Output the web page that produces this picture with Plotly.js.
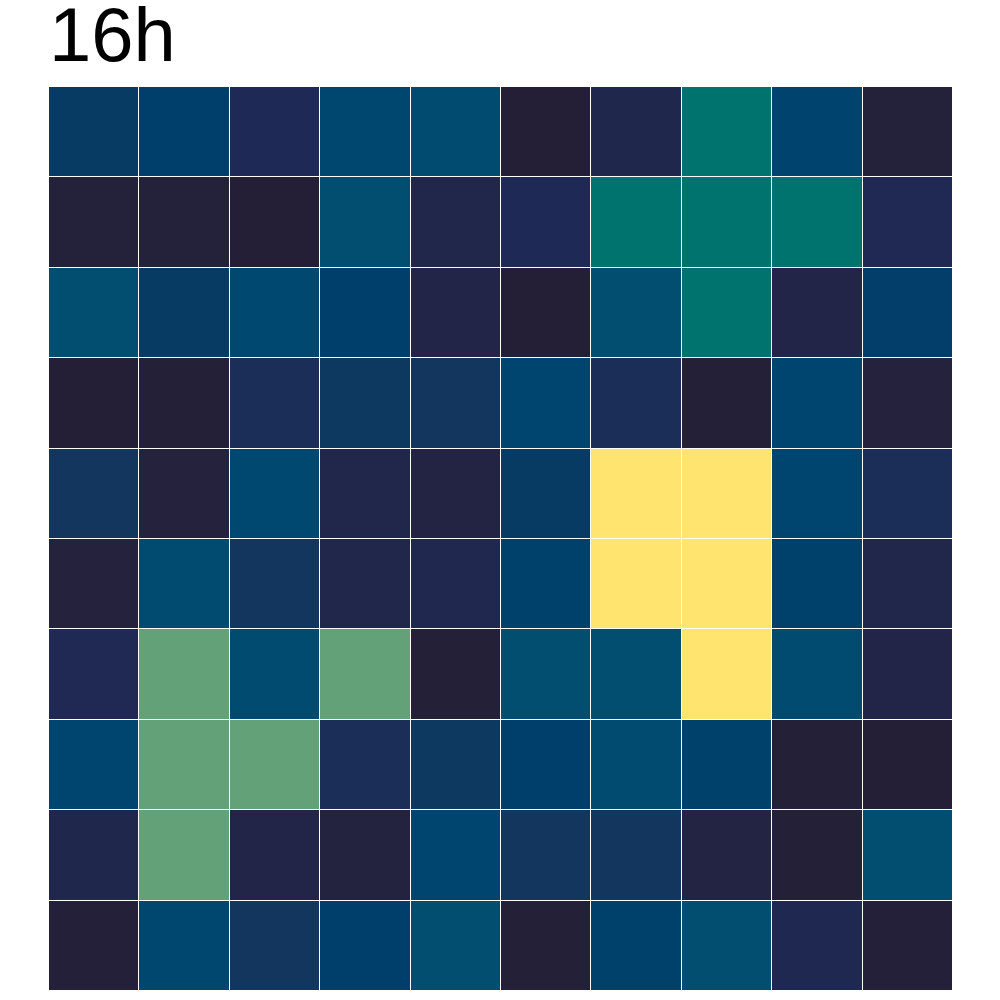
<!DOCTYPE html>
<html>
<head>
<meta charset="utf-8">
<script src="https://cdn.plot.ly/plotly-3.0.1.min.js"></script>
<style>html,body{margin:0;padding:0;background:#fff;}#chart{width:1000px;height:1000px;}</style>
</head>
<body>
<div id="chart"></div>
<script>
const xLabels = ["0","1","2","3","4","5","6","7","8","9"];
const yLabels = ["0","1","2","3","4","5","6","7","8","9"];
const row0 = [27, 31, 15, 35, 38, 1, 11, 60, 33, 4];
const row1 = [4, 4, 1, 40, 10, 15, 60, 60, 60, 14];
const row2 = [40, 27, 36, 31, 9, 1, 40, 60, 9, 30];
const row3 = [1, 2, 17, 24, 21, 34, 17, 2, 34, 5];
const row4 = [21, 5, 36, 10, 7, 27, 100, 100, 34, 17];
const row5 = [5, 38, 21, 10, 12, 32, 100, 100, 32, 10];
const row6 = [14, 80, 38, 80, 2, 40, 40, 100, 38, 9];
const row7 = [34, 80, 80, 17, 24, 31, 38, 32, 2, 1];
const row8 = [11, 80, 9, 6, 34, 21, 21, 7, 2, 40];
const row9 = [3, 35, 21, 31, 40, 2, 32, 40, 13, 3];
const zValues = [row0,row1,row2,row3,row4,row5,row6,row7,row8,row9];
const titleText = "16h";

const colorscale = [
  [0.00,'#241e34'],[0.05,'#24223d'],[0.10,'#21264b'],[0.15,'#1e2a55'],
  [0.21,'#13365f'],[0.27,'#073b63'],[0.31,'#003f6b'],[0.35,'#004770'],
  [0.40,'#024e70'],[0.60,'#00736f'],[0.80,'#63a178'],[1.00,'#ffe570']
];

const trace = {
  type: 'heatmap',
  x: xLabels, y: yLabels, z: zValues,
  zmin: 0, zmax: 100,
  colorscale: colorscale,
  showscale: false,
  xgap: 1, ygap: 1,
  hoverinfo: 'skip'
};

const layout = {
  width: 1000, height: 1000,
  margin: {l: 49, r: 47, t: 87, b: 9, pad: 0},
  paper_bgcolor: '#ffffff', plot_bgcolor: '#ffffff',
  title: {
    text: titleText,
    font: {family: 'Liberation Sans, Arial, sans-serif', size: 76, color: '#000'},
    xref: 'paper', x: 0, xanchor: 'left',
    yref: 'container', y: 0.992, yanchor: 'top'
  },
  xaxis: {showticklabels: false, showgrid: false, zeroline: false, ticks: '', showline: false},
  yaxis: {showticklabels: false, showgrid: false, zeroline: false, ticks: '', showline: false, autorange: 'reversed'}
};

Plotly.newPlot('chart', [trace], layout, {displayModeBar: false, staticPlot: true});
</script>
</body>
</html>
